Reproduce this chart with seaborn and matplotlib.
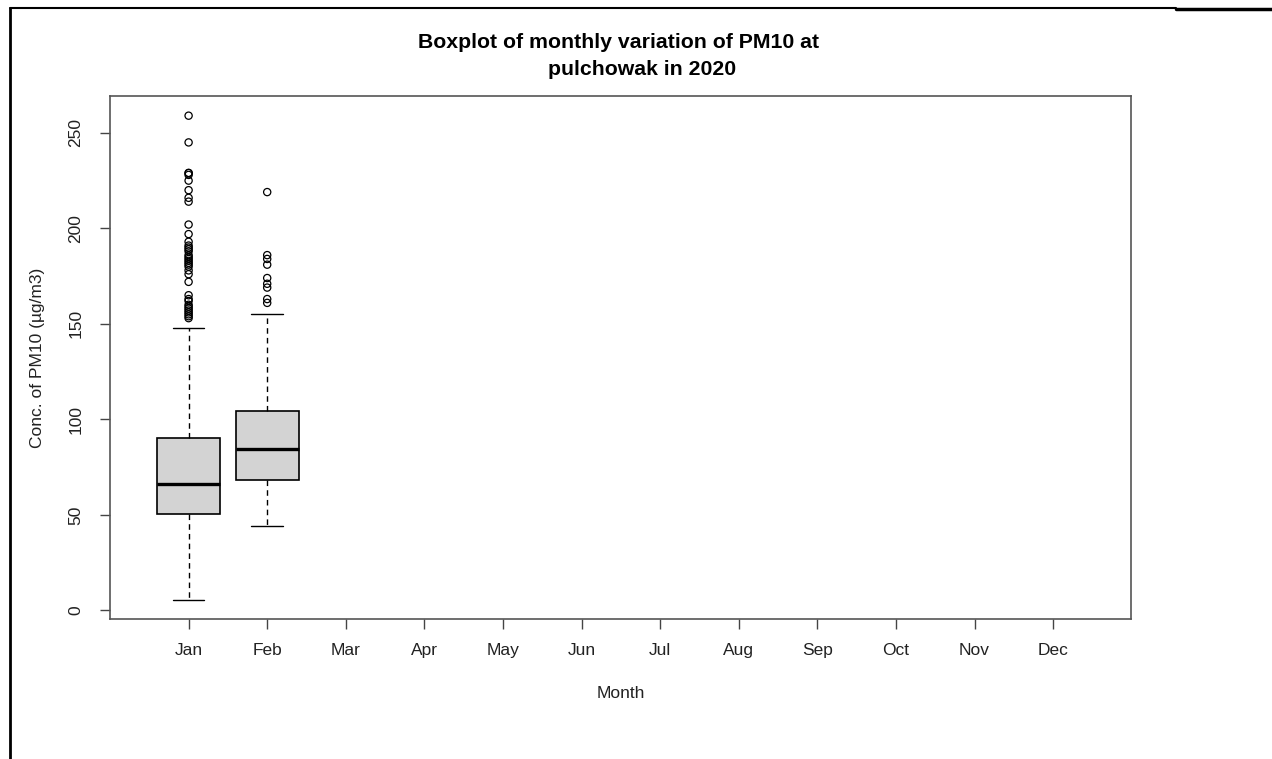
import matplotlib
matplotlib.use("Agg")
import matplotlib.pyplot as plt
from matplotlib.lines import Line2D
import seaborn as sns
import pandas as pd

# ---------------- data ----------------
months = ["Jan", "Feb", "Mar", "Apr", "May", "Jun",
          "Jul", "Aug", "Sep", "Oct", "Nov", "Dec"]
box_months = ["Jan", "Feb"]
whisker_low = [5.5, 44.0]
q1 = [50.4, 68.3]
median = [66.2, 84.6]
q3 = [90.3, 104.5]
whisker_high = [148.0, 155.0]
jan_outliers = [259, 245, 229, 229, 228, 225, 220, 216, 214, 202, 197,
                193, 191, 190, 189, 188, 186, 185, 184, 183, 182, 181,
                180, 178, 176, 172, 165, 163, 162, 160, 159, 158, 157,
                156, 155, 154, 153]
feb_outliers = [219, 186, 184, 181, 174, 171, 169, 163, 161]
yticks = [0, 50, 100, 150, 200, 250]
title_line1 = "Boxplot of monthly variation of PM10 at"
title_line2 = "pulchowak in 2020"
xlabel = "Month"
ylabel = "Conc. of PM10 (\u00b5g/m3)"

# ---------------- style ----------------
sns.set_style("white")
plt.rcParams["font.family"] = ["Liberation Sans", "DejaVu Sans"]

W, H = 1272, 759
fig = plt.figure(figsize=(W / 100, H / 100), dpi=100)
ax = fig.add_axes([110 / W, 1 - 619 / H, (1131 - 110) / W, (619 - 96) / H])

# outliers via seaborn (categorical axis with all months)
out_df = pd.DataFrame({
    "Month": ["Jan"] * len(jan_outliers) + ["Feb"] * len(feb_outliers),
    "value": jan_outliers + feb_outliers,
})
sns.stripplot(data=out_df, x="Month", y="value", order=months, jitter=False,
              marker="o", size=5.2, linewidth=0.9, edgecolor="black",
              color="black", ax=ax, zorder=3)
for coll in ax.collections:
    coll.set_facecolor("none")
    coll.set_edgecolor("black")

# boxes from summary statistics
stats = []
for i, m in enumerate(box_months):
    stats.append(dict(label=m, whislo=whisker_low[i], q1=q1[i], med=median[i],
                      q3=q3[i], whishi=whisker_high[i], fliers=[]))
positions = [months.index(m) for m in box_months]
ax.bxp(stats, positions=positions, widths=0.8, capwidths=0.4,
       patch_artist=True, showfliers=False, manage_ticks=False,
       boxprops=dict(facecolor="#D3D3D3", edgecolor="black", linewidth=1.2),
       medianprops=dict(color="black", linewidth=2.4, solid_capstyle="butt"),
       whiskerprops=dict(color="black", linestyle=(0, (4, 3)), linewidth=1),
       capprops=dict(color="black", linewidth=1))

# axes
ax.set_xlim(-1.0, 11.99)
ax.set_ylim(-4.5, 269.3)
ax.set_xticks(range(len(months)))
ax.set_xticklabels(months)
ax.set_yticks(yticks)
ax.set_yticklabels([str(v) for v in yticks], rotation=90, va="center")
ax.tick_params(axis="both", which="major", length=7, width=1,
               color="#444444", labelsize=12.5, labelcolor="#222222")
ax.tick_params(axis="x", pad=10, bottom=True)
ax.tick_params(axis="y", pad=12, left=True)
for s in ax.spines.values():
    s.set_visible(True)
    s.set_color("#555555")
    s.set_linewidth(1.2)
ax.grid(False)

ax.set_xlabel(xlabel, fontsize=12.5, color="#222222", va="center")
ax.xaxis.set_label_coords(0.5, (619 - 693) / 523)
ax.set_ylabel(ylabel, fontsize=12.5, color="#222222", va="center")
ax.yaxis.set_label_coords((38 - 110) / 1021, 0.5)

# title (two lines as in the reference)
fig.text(619 / W, 1 - 48.5 / H, title_line1, ha="center", va="baseline",
         fontsize=15.3, fontweight="bold", color="black")
fig.text(642 / W, 1 - 75 / H, title_line2, ha="center", va="baseline",
         fontsize=15.3, fontweight="bold", color="black")

# document frame lines
fig.add_artist(Line2D([10 / W, 10 / W], [0, 1 - 8 / H], color="black",
                      lw=2, transform=fig.transFigure))
fig.add_artist(Line2D([10 / W, 1176 / W], [1 - 8.3 / H, 1 - 8.3 / H],
                      color="black", lw=1.5, transform=fig.transFigure))
fig.add_artist(Line2D([1176 / W, 1], [1 - 9 / H, 1 - 9 / H],
                      color="black", lw=2.5, transform=fig.transFigure))

fig.savefig("out.png", dpi=100)
